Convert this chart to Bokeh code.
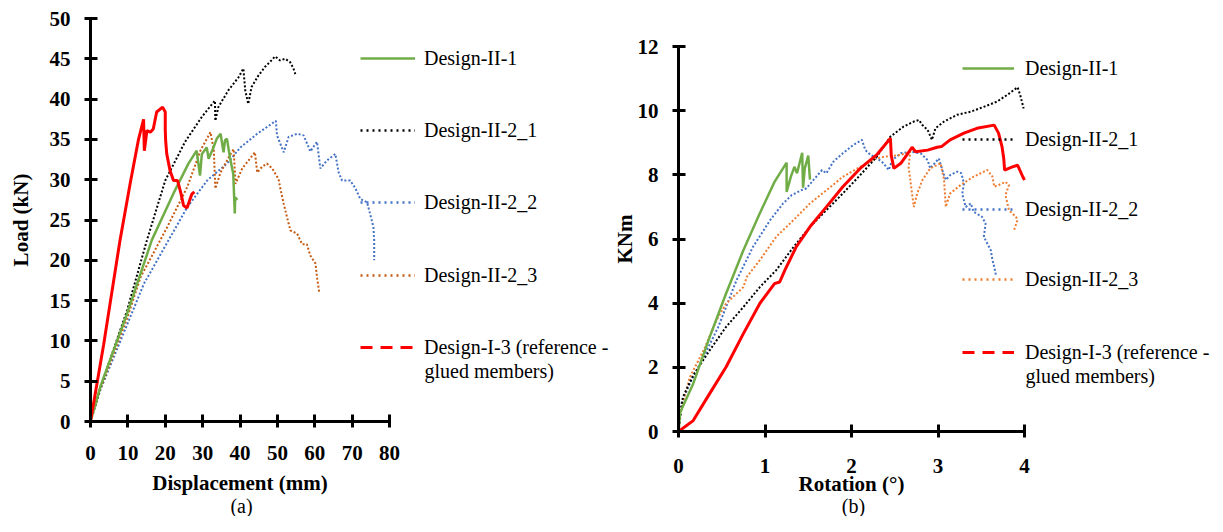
from bokeh.plotting import figure
from bokeh.layouts import row
from bokeh.models import Range1d, Legend, LegendItem, Label, FixedTicker
from bokeh.embed import file_html
from bokeh.resources import INLINE

# ---------------- data: panel (a) load vs displacement ----------------
a_ii1_x = [0, 2.7, 9.8, 16.4, 22.2, 26.2, 28.4, 29.3, 29.8, 31.1, 31.6, 32.9, 33.8, 34.8, 35.6, 36.0, 36.5, 37.3, 38.2, 38.6, 38.7, 39.3]
a_ii1_y = [0, 4.4, 13.4, 22.5, 28.3, 32.0, 33.6, 30.5, 33.2, 34.0, 32.6, 34.0, 35.1, 35.7, 33.4, 34.9, 35.1, 32.8, 30.7, 25.8, 27.8, 27.5]

a_ii21_x = [0, 2.7, 9.8, 15.1, 20.0, 25.3, 29.8, 32.9, 33.3, 33.4, 34.2, 36.9, 39.6, 40.9, 41.4, 42.2, 43.1, 44.9, 46.7, 48.0, 49.4, 50.7, 52.1, 53.4, 54.3, 54.8]
a_ii21_y = [0, 4.3, 13.8, 22.5, 29.9, 34.7, 37.8, 39.6, 39.8, 37.3, 39.0, 41.1, 42.7, 43.8, 41.1, 39.4, 41.5, 42.9, 44.0, 44.6, 45.3, 44.8, 45.0, 44.6, 43.8, 43.1]

a_ii22_x = [0, 2.7, 14.3, 25.9, 31.2, 36.5, 40.1, 44.6, 49.6, 49.9, 51.7, 53.0, 55.3, 57.0, 58.4, 58.8, 60.6, 61.5, 63.3, 65.5, 66.4, 67.3, 69.5, 70.9, 72.2, 74.0, 74.9, 75.7, 75.9, 75.9]
a_ii22_y = [0, 4.0, 17.1, 26.6, 29.9, 32.0, 34.0, 35.7, 37.3, 35.5, 33.4, 35.3, 35.7, 35.5, 34.0, 33.5, 34.7, 31.4, 32.4, 33.2, 30.9, 29.9, 29.9, 28.9, 27.6, 27.2, 25.6, 24.1, 22.5, 20.0]

a_ii23_x = [0, 2.7, 9.8, 13.4, 20.5, 25.9, 29.4, 32.1, 33.0, 33.4, 34.8, 37.0, 38.3, 38.8, 40.6, 44.0, 44.6, 45.9, 47.2, 48.6, 50.3, 50.8, 51.7, 52.6, 53.5, 55.3, 56.6, 57.9, 58.8, 60.2, 60.6, 61.2]
a_ii23_y = [0, 4.1, 12.8, 17.9, 24.1, 29.1, 33.6, 35.9, 33.6, 28.9, 30.9, 32.8, 33.8, 29.5, 31.4, 33.4, 30.9, 31.6, 32.0, 31.4, 30.1, 28.9, 27.0, 25.3, 23.7, 23.3, 22.0, 22.0, 20.6, 19.6, 17.9, 16.0]

a_i3_x = [0, 3.5, 7.9, 10.6, 12.8, 14.2, 14.4, 15.1, 16.0, 16.8, 17.7, 19.3, 20.0, 20.0, 20.1, 20.4, 21.3, 22.2, 23.3, 24.2, 24.9, 25.8, 26.2, 27.1, 27.8]
a_i3_y = [0, 9.5, 22.5, 29.5, 34.9, 37.5, 33.6, 36.1, 35.9, 36.3, 38.4, 39.0, 38.4, 36.3, 34.9, 33.2, 31.1, 29.9, 29.9, 28.3, 26.8, 26.5, 27.0, 28.2, 28.5]

# ---------------- data: panel (b) moment vs rotation ----------------
b_ii1_x = [0, 0.02, 0.17, 0.36, 0.55, 0.75, 0.94, 1.11, 1.25, 1.25, 1.30, 1.34, 1.37, 1.43, 1.44, 1.46, 1.50, 1.52]
b_ii1_y = [0, 0.6, 1.49, 2.94, 4.30, 5.65, 6.80, 7.78, 8.38, 7.47, 7.95, 8.25, 8.05, 8.69, 7.6, 8.2, 8.6, 7.85]

b_ii21_x = [0, 0.05, 0.17, 0.36, 0.55, 0.75, 0.94, 1.13, 1.33, 1.52, 1.71, 1.90, 2.10, 2.29, 2.45, 2.60, 2.72, 2.78, 2.82, 2.88, 2.93, 2.97, 3.07, 3.22, 3.38, 3.53, 3.68, 3.80, 3.92, 3.95, 3.99]
b_ii21_y = [0, 1.07, 1.75, 2.53, 3.26, 3.88, 4.50, 5.03, 5.75, 6.38, 6.90, 7.42, 7.99, 8.56, 9.19, 9.50, 9.66, 9.71, 9.55, 9.40, 9.09, 9.45, 9.66, 9.87, 9.97, 10.12, 10.28, 10.49, 10.73, 10.49, 10.07]

b_ii22_x = [0, 0.015, 0.13, 0.29, 0.46, 0.67, 0.86, 1.06, 1.21, 1.31, 1.42, 1.48, 1.56, 1.66, 1.71, 1.79, 1.90, 2.02, 2.12, 2.16, 2.22, 2.30, 2.37, 2.43, 2.47, 2.57, 2.68, 2.80, 2.88, 2.91, 3.01, 3.05, 3.09, 3.14, 3.22, 3.27, 3.30, 3.28, 3.32, 3.38, 3.41, 3.51, 3.55, 3.53, 3.57, 3.61, 3.63, 3.65, 3.67]
b_ii22_y = [0, 0.76, 1.49, 2.32, 3.26, 4.71, 5.75, 6.59, 7.11, 7.37, 7.52, 7.58, 7.84, 8.15, 8.05, 8.41, 8.67, 8.93, 9.09, 8.77, 8.62, 8.51, 8.36, 8.15, 8.46, 8.67, 8.72, 8.67, 8.46, 8.20, 8.51, 8.15, 7.84, 7.99, 8.10, 8.05, 7.73, 7.40, 7.00, 7.11, 6.85, 6.69, 6.48, 6.07, 5.86, 5.65, 5.34, 5.13, 4.87]

b_ii23_x = [0, 0.015, 0.13, 0.29, 0.44, 0.55, 0.75, 0.79, 0.94, 1.13, 1.33, 1.52, 1.71, 1.90, 2.10, 2.29, 2.37, 2.57, 2.68, 2.66, 2.72, 2.76, 2.82, 2.91, 3.03, 3.07, 3.09, 3.14, 3.26, 3.41, 3.57, 3.63, 3.65, 3.70, 3.78, 3.82, 3.78, 3.82, 3.90, 3.92, 3.88]
b_ii23_y = [0, 0.55, 1.69, 2.53, 3.47, 3.99, 4.50, 4.82, 5.34, 6.07, 6.59, 7.11, 7.52, 7.94, 8.25, 8.51, 8.56, 8.62, 8.72, 8.25, 7.00, 7.42, 7.84, 8.20, 8.36, 7.84, 7.00, 7.42, 7.68, 7.94, 8.15, 7.94, 7.63, 7.68, 7.78, 7.68, 7.37, 6.90, 6.69, 6.60, 6.28]

b_i3_x = [0, 0.17, 0.36, 0.55, 0.75, 0.94, 1.11, 1.17, 1.23, 1.36, 1.52, 1.71, 1.90, 2.10, 2.29, 2.45, 2.46, 2.49, 2.57, 2.64, 2.70, 2.74, 2.88, 2.99, 3.04, 3.14, 3.30, 3.45, 3.65, 3.70, 3.74, 3.76, 3.77, 3.86, 3.92, 3.98, 4.0]
b_i3_y = [0, 0.34, 1.18, 2.01, 3.05, 3.99, 4.61, 4.66, 5.03, 5.75, 6.38, 7.00, 7.63, 8.20, 8.62, 9.14, 8.60, 8.20, 8.36, 8.62, 8.86, 8.72, 8.77, 8.86, 8.88, 9.09, 9.30, 9.45, 9.55, 9.30, 8.88, 8.51, 8.15, 8.25, 8.30, 7.94, 7.84]

# ---------------- ticks and labels ----------------
a_xticks = [0, 10, 20, 30, 40, 50, 60, 70, 80]
a_yticks = [0, 5, 10, 15, 20, 25, 30, 35, 40, 45, 50]
b_xticks = [0, 1, 2, 3, 4]
b_yticks = [0, 2, 4, 6, 8, 10, 12]

series_names = ["Design-II-1", "Design-II-2_1", "Design-II-2_2", "Design-II-2_3", "Design-I-3 (reference -"]
second_line = "glued members)"

FONT = "Liberation Serif"
GREEN = "#70AD47"
BLUE = "#4472C4"
ORANGE_A = "#C55A11"
ORANGE_B = "#ED7D31"
RED = "#FF0000"
NAN = float("nan")

H = 516  # canvas height of both panels


def make_fig(width, xr, yr, px_x0, px_x1, px_y0, px_y1, left_px):
    """Canvas == frame; ranges chosen so xr/yr land on the given pixel spans."""
    sx = (px_x1 - px_x0) / (xr[1] - xr[0])
    sy = (px_y0 - px_y1) / (yr[1] - yr[0])
    x_start = xr[0] - (px_x0 - left_px) / sx
    x_end = xr[0] + (left_px + width - px_x0) / sx
    y_end = yr[0] + px_y0 / sy
    y_start = yr[0] - (H - px_y0) / sy
    return figure(width=width, height=H, x_range=Range1d(x_start, x_end),
                  y_range=Range1d(y_start, y_end), output_backend="svg",
                  toolbar_location=None, min_border=0)


def style_axes(p, xb, yb, xt, yt, xlabel, ylabel, xl_so, xt_so, yl_so, yt_so):
    p.outline_line_color = None
    p.xgrid.visible = False
    p.ygrid.visible = False
    p.background_fill_color = "white"
    p.border_fill_color = "white"
    p.xaxis.ticker = FixedTicker(ticks=xt)
    p.yaxis.ticker = FixedTicker(ticks=yt)
    p.xaxis.axis_label = xlabel
    p.yaxis.axis_label = ylabel
    p.xaxis.bounds = xb
    p.yaxis.bounds = yb
    p.xaxis.fixed_location = yb[0]
    p.yaxis.fixed_location = xb[0]
    for ax in (p.xaxis, p.yaxis):
        ax.axis_line_width = 3
        ax.axis_line_color = "black"
        ax.major_tick_line_width = 3
        ax.major_tick_line_color = "black"
        ax.major_tick_in = 7
        ax.major_tick_out = 6
        ax.minor_tick_line_color = None
        ax.major_label_text_font = FONT
        ax.major_label_text_font_style = "bold"
        ax.major_label_text_font_size = "21px"
        ax.major_label_text_color = "black"
        ax.axis_label_text_font = FONT
        ax.axis_label_text_font_style = "bold"
        ax.axis_label_text_font_size = "21px"
        ax.axis_label_text_color = "black"
    p.xaxis.major_label_standoff = xl_so
    p.xaxis.axis_label_standoff = xt_so
    p.yaxis.major_label_standoff = yl_so
    p.yaxis.axis_label_standoff = yt_so


def add_legend(p, x, ys, glyph_w, standoff, styles, second_x, second_y, caption, cap_x, cap_y):
    for name, y, st in zip(series_names, ys, styles):
        proxy = p.line(x=[NAN], y=[NAN], **st)   # legend sample only
        leg = Legend(items=[LegendItem(label=name, renderers=[proxy])],
                     location=(x, y), padding=0, margin=0, spacing=0,
                     border_line_alpha=0, background_fill_alpha=0,
                     glyph_width=glyph_w, glyph_height=24, label_height=24,
                     label_standoff=standoff, label_text_font=FONT,
                     label_text_font_size="20px", label_text_color="black")
        p.add_layout(leg)
    p.add_layout(Label(x=second_x, y=second_y, x_units="screen", y_units="screen",
                       text=second_line, text_font=FONT, text_font_size="20px",
                       text_baseline="middle", text_align="left", text_color="black"))
    p.add_layout(Label(x=cap_x, y=cap_y, x_units="screen", y_units="screen",
                       text=caption, text_font=FONT, text_font_size="20px",
                       text_baseline="middle", text_align="center", text_color="black"))


# ---------------- panel (a) ----------------
p1 = make_fig(610, (0, 80), (0, 50), 90, 389, 421, 18, 0)
style_axes(p1, (0, 80), (0, 50), a_xticks, a_yticks, "Displacement (mm)", "Load (kN)", 18, 8, 14, 14)

p1.line(a_ii22_x, a_ii22_y, line_color=BLUE, line_width=2, line_dash="2 2")
p1.line(a_ii23_x, a_ii23_y, line_color=ORANGE_A, line_width=2, line_dash="2 2")
p1.line(a_ii21_x, a_ii21_y, line_color="black", line_width=2, line_dash="2 2")
p1.line(a_ii1_x, a_ii1_y, line_color=GREEN, line_width=2.5)
p1.line(a_i3_x, a_i3_y, line_color=RED, line_width=3)

styles_a = [dict(line_color=GREEN, line_width=2.5),
            dict(line_color="black", line_width=2.5, line_dash="2 4"),
            dict(line_color=BLUE, line_width=2.5, line_dash="2 4"),
            dict(line_color=ORANGE_A, line_width=2.5, line_dash="2 4"),
            dict(line_color=RED, line_width=3, line_dash="12 8")]
add_legend(p1, 360, [446, 374, 302, 229, 157], 55, 9, styles_a, 424, 146, "(a)", 241, 11)

# ---------------- panel (b) ----------------
p2 = make_fig(605, (0, 4), (0, 12), 678, 1024, 431, 46, 610)
style_axes(p2, (0, 4), (0, 12), b_xticks, b_yticks, "Rotation (°)", "KNm", 21, -4, 14, -2)

p2.line(b_ii22_x, b_ii22_y, line_color=BLUE, line_width=2, line_dash="2 2")
p2.line(b_ii23_x, b_ii23_y, line_color=ORANGE_B, line_width=2, line_dash="2 2")
p2.line(b_ii21_x, b_ii21_y, line_color="black", line_width=2, line_dash="2 2")
p2.line(b_ii1_x, b_ii1_y, line_color=GREEN, line_width=2.5)
p2.line(b_i3_x, b_i3_y, line_color=RED, line_width=3)

styles_b = [dict(line_color=GREEN, line_width=2.5),
            dict(line_color="black", line_width=2.5, line_dash="2 4"),
            dict(line_color=BLUE, line_width=2.5, line_dash="2 4"),
            dict(line_color=ORANGE_B, line_width=2.5, line_dash="2 4"),
            dict(line_color=RED, line_width=3, line_dash="12 8")]
add_legend(p2, 352, [436, 365, 295, 225, 152], 52, 11, styles_b, 415, 141, "(b)", 243, 11)

layout = row(p1, p2)
open("out.html", "w").write(file_html(layout, INLINE))
